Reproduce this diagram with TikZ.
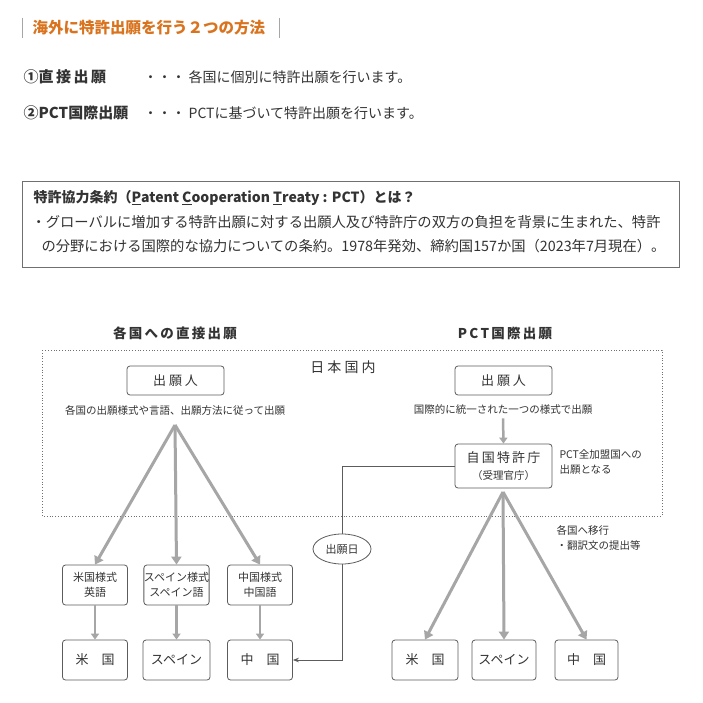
\documentclass[tikz,border=0pt]{standalone}
\usepackage{fontspec}
\setmainfont{Noto Sans CJK JP}
\usetikzlibrary{arrows.meta,shapes.geometric}
\definecolor{org}{HTML}{D9731E}
\definecolor{txt}{HTML}{333333}
\definecolor{ar}{HTML}{A6A6A6}
\tikzset{
 bx/.style={draw=txt!80,rounded corners=3pt,line width=0.8pt,align=center,font=\fontsize{13}{15}\selectfont,text=txt,inner sep=0pt},
 sm/.style={font=\fontsize{10.5}{15}\selectfont,text=txt,align=left},
 big/.style={draw=ar,line width=3pt,-{Triangle[length=8pt,width=10pt]}},
 lit/.style={draw=ar,line width=2.5pt,-{Triangle[length=6pt,width=8pt]}},
}
\begin{document}
\begin{tikzpicture}[x=1pt,y=-1pt,every node/.style={text=txt}]
\useasboundingbox[fill=white] (0,0) rectangle (703,703);
\draw[ar,line width=0.8pt] (22,18)--(22,38) (279,18)--(279,38);
\node[anchor=west,text=org,font=\bfseries\fontsize{15.5}{18}\selectfont] (t) at (29,28) {海外に特許出願を行う２つの方法};
\node[anchor=west,font=\bfseries\fontsize{15}{18}\selectfont] (m1) at (20,77) {①直\,接\,出\,願};
\node[anchor=west,font=\fontsize{14}{18}\selectfont] (d1) at (140,77) {・・・\ 各国に個別に特許出願を行います。};
\node[anchor=west,font=\bfseries\fontsize{15}{18}\selectfont] (m2) at (20,113) {②PCT国際出願};
\node[anchor=west,font=\fontsize{14}{18}\selectfont] (d2) at (140,113) {・・・\ PCTに基づいて特許出願を行います。};
\draw[txt!70,line width=0.6pt] (22,181) rectangle (679,267);
\node[anchor=west,font=\bfseries\fontsize{14}{18}\selectfont] (p0) at (30,198) {特許協力条約（\underline{P}atent \underline{C}ooperation \underline{T}reaty : PCT）とは？};
\node[anchor=west,font=\fontsize{14.3}{18}\selectfont] (p1) at (28,222) {・グローバルに増加する特許出願に対する出願人及び特許庁の双方の負担を背景に生まれた、特許};
\node[anchor=west,font=\fontsize{14.3}{18}\selectfont] (p2) at (38,246) {の分野における国際的な協力についての条約。1978年発効、締約国157か国（2023年7月現在）。};
\node[font=\bfseries\fontsize{13.5}{16}\selectfont] (h1) at (175,333) {各\,国\,へ\,の\,直\,接\,出\,願};
\node[font=\bfseries\fontsize{13.5}{16}\selectfont] (h2) at (505,333) {P\,C\,T\,国\,際\,出\,願};
\draw[txt!70,line width=0.8pt,dotted] (42,350) rectangle (662,516);
\node[font=\fontsize{14}{16}\selectfont] (jp) at (343,367) {日\ 本\ 国\ 内};
\node[bx,minimum width=97pt,minimum height=29pt] (a1) at (175.5,380.5) {出\ 願\ 人};
\node[sm] (a1t) at (175,410) {各国の出願様式や言語、出願方法に従って出願};
\node[bx,minimum width=97pt,minimum height=29pt] (b1) at (503.5,380.5) {出\ 願\ 人};
\node[sm] (b1t) at (503,410) {国際的に統一された一つの様式で出願};
\node[bx,minimum width=97pt,minimum height=44pt,font=\fontsize{13}{17}\selectfont] (b2) at (503.5,466) {自\,国\,特\,許\,庁\\{\fontsize{10.5}{14}\selectfont（受理官庁）}};
\node[sm,anchor=north west] (b2t) at (556,446) {PCT全加盟国への\\出願となる};
\node[sm,anchor=north west] (mv) at (553,522) {各国へ移行\\・翻訳文の提出等};
\coordinate (s1) at (175,425);
\coordinate (s2) at (503,492);
\foreach \n/\x/\a/\b in {u/95/米国様式/英語,s/176.5/スペイン様式/スペイン語,c/260/中国様式/中国語}{
 \node[bx,minimum width=65pt,minimum height=40pt,font=\fontsize{11}{15}\selectfont] (f\n) at (\x,585) {\a\\\b};
}
\node[bx,minimum width=65pt,minimum height=40pt] (gu) at (95,660) {米\quad 国};
\node[bx,minimum width=67pt,minimum height=40pt] (gs) at (176.5,660) {スペイン};
\node[bx,minimum width=65pt,minimum height=40pt] (gc) at (260,660) {中\quad 国};
\node[bx,minimum width=66pt,minimum height=40pt] (ru) at (425,660) {米\quad 国};
\node[bx,minimum width=64pt,minimum height=40pt] (rs) at (504,660) {スペイン};
\node[bx,minimum width=63pt,minimum height=40pt] (rc) at (586.5,660) {中\quad 国};
\draw[big] (s1)--(fu.north);
\draw[big] (s1)--(fs.north);
\draw[big] (s1)--(fc.north);
\draw[big] (s2)--(ru.north);
\draw[big] (s2)--(rs.north);
\draw[big] (s2)--(rc.north);
\draw[lit] (b1t.south)--(b2.north);
\draw[lit] (fu.south)--(gu.north);
\draw[lit] (fs.south)--(gs.north);
\draw[lit] (fc.south)--(gc.north);
\node[draw=txt!80,line width=0.8pt,ellipse,minimum width=58pt,minimum height=30pt,inner sep=0pt,fill=white,font=\fontsize{11}{14}\selectfont] (dd) at (342,549) {出願日};
\draw[txt!80,line width=0.8pt] (b2.west)-|(dd.north);
\draw[txt!80,line width=0.8pt,-{Stealth[length=6pt]}] (dd.south)|-(gc.east);
\end{tikzpicture}
\end{document}
